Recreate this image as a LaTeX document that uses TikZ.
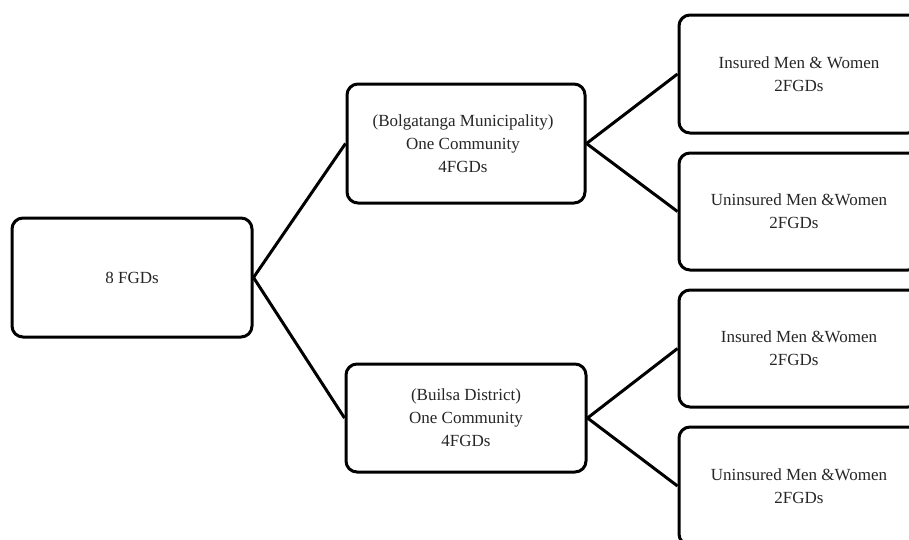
\documentclass[tikz,border=0pt]{standalone}
\usepackage{fontspec}
\setmainfont{Liberation Serif}
\begin{document}
\begin{tikzpicture}[x=1pt,y=-1pt,
  box/.style={draw=black, line width=3pt, rounded corners=11pt, fill=white,
    inner sep=0pt, align=center, text=black!85,
    font=\fontsize{17}{23}\selectfont},
  link/.style={draw=black, line width=3pt}]
\useasboundingbox (0,0) rectangle (909,539);
\clip (0,0) rectangle (909,539);
\node[box, minimum width=240pt, minimum height=119pt] (L) at (132,277.5) {8 FGDs};
\node[box, minimum width=238pt, minimum height=119pt] (MT) at (466,143.5)
  {\hspace*{-6pt}(Bolgatanga Municipality)\\\hspace*{-6pt}One Community\\\hspace*{-6pt}4FGDs};
\node[box, minimum width=240pt, minimum height=108pt] (MB) at (466,418)
  {(Builsa District)\\One Community\\4FGDs};
\node[box, minimum width=240pt, minimum height=118pt] (R1) at (799,74)
  {Insured Men \& Women\\2FGDs};
\node[box, minimum width=240pt, minimum height=117pt] (R2) at (799,211.5)
  {Uninsured Men \&Women\\\hspace*{-10pt}2FGDs};
\node[box, minimum width=240pt, minimum height=117pt] (R3) at (799,348.5)
  {Insured Men \&Women\\\hspace*{-10pt}2FGDs};
\node[box, minimum width=240pt, minimum height=118pt] (R4) at (799,486)
  {Uninsured Men \&Women\\2FGDs};
\draw[link] (L.east) -- (MT.west);
\draw[link] (L.east) -- (MB.west);
\draw[link] (MT.east) -- (R1.west);
\draw[link] (MT.east) -- (R2.west);
\draw[link] (MB.east) -- (R3.west);
\draw[link] (MB.east) -- (R4.west);
\end{tikzpicture}
\end{document}
